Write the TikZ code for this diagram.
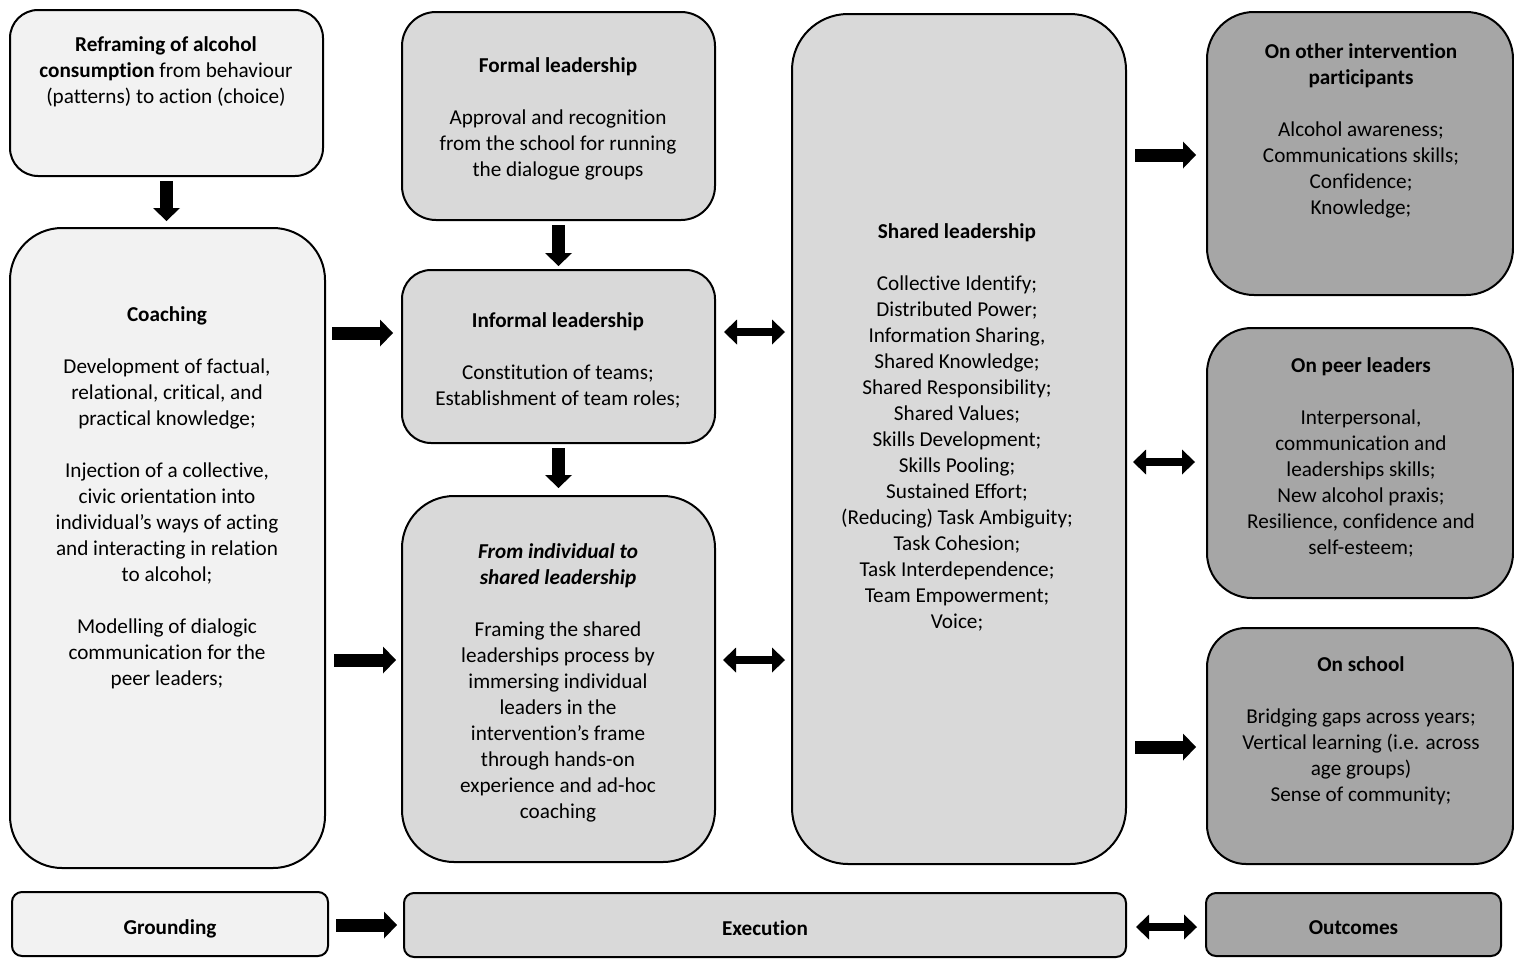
\documentclass[tikz,border=0pt]{standalone}
\usepackage{fontspec}
\setmainfont{Carlito}[Ligatures=NoCommon]
\usetikzlibrary{arrows.meta}
\definecolor{cL}{HTML}{F2F2F2}
\definecolor{cM}{HTML}{D9D9D9}
\definecolor{cD}{HTML}{A6A6A6}
\tikzset{
  box/.style={draw=black, line width=1pt, rectangle, inner sep=0pt},
  txt/.style={align=center, inner sep=0pt, anchor=north, font=\fontsize{10.6}{13}\selectfont},
  lbl/.style={font=\fontsize{10.6}{13}\selectfont\bfseries, text height=10pt, text depth=0pt},
  sarrow/.style={line width=6.5pt, -{Triangle[length=6.5pt,width=13.5pt,line width=0pt]}},
  darrow/.style={line width=4.25pt, {Triangle[length=6.5pt,width=12.5pt,line width=0pt]}-{Triangle[length=6.5pt,width=12.5pt,line width=0pt]}}
}
\begin{document}
\begin{tikzpicture}[x=0.5pt,y=-0.5pt]
\useasboundingbox (0,0) rectangle (1514,958);
\fill[white] (0,0) rectangle (1514,958);
% boxes
\node[box, fill=cL, minimum width=156.5pt, minimum height=83pt, rounded corners=14pt] (refr) at (166.5,93) {};
\node[box, fill=cL, minimum width=157.5pt, minimum height=320pt, rounded corners=26pt] (coach) at (167.5,548) {};
\node[box, fill=cM, minimum width=156.5pt, minimum height=104pt, rounded corners=17pt] (formal) at (558.5,116) {};
\node[box, fill=cM, minimum width=156.5pt, minimum height=86.5pt, rounded corners=14.5pt] (inf) at (558.5,356.5) {};
\node[box, fill=cM, minimum width=156.5pt, minimum height=183pt, rounded corners=26pt] (fromi) at (558.5,679) {};
\node[box, fill=cM, minimum width=167pt, minimum height=425pt, rounded corners=28pt] (shared) at (959,439) {};
\node[box, fill=cD, minimum width=153pt, minimum height=141.5pt, rounded corners=23.5pt] (oth) at (1360,153.5) {};
\node[box, fill=cD, minimum width=153pt, minimum height=135pt, rounded corners=22.5pt] (peer) at (1360,463) {};
\node[box, fill=cD, minimum width=153pt, minimum height=118pt, rounded corners=19.5pt] (school) at (1360,746) {};
\node[box, fill=cL, minimum width=158pt, minimum height=32pt, rounded corners=5pt, lbl] (ground) at (170,924) {Grounding};
\node[box, fill=cM, minimum width=361pt, minimum height=32pt, rounded corners=5pt, lbl] (exec) at (765,925) {Execution};
\node[box, fill=cD, minimum width=147.5pt, minimum height=31.5pt, rounded corners=5pt, lbl] (outc) at (1353.5,924.5) {Outcomes};
% texts (north = first baseline - 18.2px)
\node[txt] (trefr) at (166,32.8) {\strut\textbf{Reframing of alcohol}\\ \textbf{consumption} from behaviour\\ (patterns) to action (choice)};
\node[txt] (tformal) at (558,53.8) {\strut\textbf{Formal leadership}\\[13pt] Approval and recognition\\ from the school for running\\ the dialogue groups};
\node[txt] (tinf) at (558,308.8) {\strut\textbf{Informal leadership}\\[13pt] Constitution of teams;\\ Establishment of team roles;};
\node[txt] (tfromi) at (558,539.8) {\strut\textbf{\textit{From individual to}}\\ \textbf{\textit{shared leadership}}\\[13pt] Framing the shared\\ leaderships process by\\ immersing individual\\ leaders in the\\ intervention’s frame\\ through hands-on\\ experience and ad-hoc\\ coaching};
\node[txt] (tcoach) at (167,302.8) {\strut\textbf{Coaching}\\[13pt] Development of factual,\\ relational, critical, and\\ practical knowledge;\\[13pt] Injection of a collective,\\ civic orientation into\\ individual’s ways of acting\\ and interacting in relation\\ to alcohol;\\[13pt] Modelling of dialogic\\ communication for the\\ peer leaders;};
\node[txt] (tshared) at (957,219.8) {\strut\textbf{Shared leadership}\\[13pt] Collective Identify;\\ Distributed Power;\\ Information Sharing,\\ Shared Knowledge;\\ Shared Responsibility;\\ Shared Values;\\ Skills Development;\\ Skills Pooling;\\ Sustained Effort;\\ (Reducing) Task Ambiguity;\\ Task Cohesion;\\ Task Interdependence;\\ Team Empowerment;\\ Voice;};
\node[txt] (toth) at (1361,39.8) {\strut\textbf{On other intervention}\\ \textbf{participants}\\[13pt] Alcohol awareness;\\ Communications skills;\\ Confidence;\\ Knowledge;};
\node[txt] (tpeer) at (1361,353.8) {\strut\textbf{On peer leaders}\\[13pt] Interpersonal,\\ communication and\\ leaderships skills;\\ New alcohol praxis;\\ Resilience, confidence and\\ self-esteem;};
\node[txt] (tschool) at (1361,652.8) {\strut\textbf{On school}\\[13pt] Bridging gaps across years;\\ Vertical learning (i.e. across\\ age groups)\\ Sense of community;};
% arrow levels
\coordinate (y4) at (0,333);
\coordinate (y5) at (0,660);
\coordinate (y6) at (0,332);
\coordinate (y8) at (0,155);
\coordinate (y9) at (0,462);
\coordinate (y10) at (0,747);
\coordinate (y11) at (0,925);
\coordinate (y12) at (0,927);
% vertical arrows
\draw[sarrow, shorten <=2pt, shorten >=3pt] (refr.south) -- (refr.south |- coach.north);
\draw[sarrow, shorten <=2pt, shorten >=1.5pt] (formal.south) -- (inf.north);
\draw[sarrow, shorten <=2pt, shorten >=3.5pt] (inf.south) -- (fromi.north);
% horizontal arrows
\draw[sarrow, shorten <=3pt, shorten >=4pt] (coach.east |- y4) -- (inf.west |- y4);
\draw[sarrow, shorten <=4pt, shorten >=2.5pt] (coach.east |- y5) -- (fromi.west |- y5);
\draw[darrow, shorten <=4pt, shorten >=3pt] (inf.east |- y6) -- (shared.west |- y6);
\draw[darrow, shorten <=3.5pt, shorten >=3pt] (fromi.east |- y5) -- (shared.west |- y5);
\draw[sarrow, shorten <=4pt, shorten >=5pt] (shared.east |- y8) -- (oth.west |- y8);
\draw[darrow, shorten <=3pt, shorten >=5.5pt] (shared.east |- y9) -- (peer.west |- y9);
\draw[sarrow, shorten <=4pt, shorten >=5pt] (shared.east |- y10) -- (school.west |- y10);
\draw[sarrow, shorten <=3.5pt, shorten >=3pt] (ground.east |- y11) -- (exec.west |- y11);
\draw[darrow, shorten <=4.5pt, shorten >=4pt] (exec.east |- y12) -- (outc.west |- y12);
\end{tikzpicture}
\end{document}
